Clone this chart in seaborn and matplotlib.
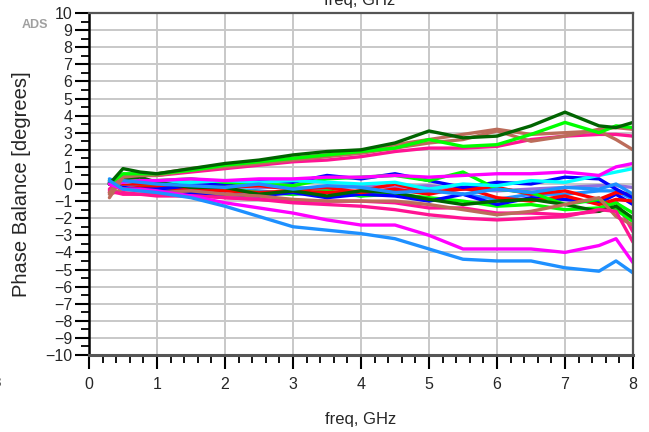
import pandas as pd
import matplotlib.pyplot as plt
import seaborn as sns
from matplotlib.ticker import MultipleLocator

sns.set_style("white")
plt.rcParams["font.family"] = ["Liberation Sans", "DejaVu Sans"]

# sweep points (GHz) and phase balance (deg) per trace
freq = [0.3, 0.5, 0.75, 1.0, 1.5, 2.0, 2.5, 3.0, 3.5, 4.0, 4.5, 5.0, 5.5, 6.0, 6.5, 7.0, 7.5, 7.75, 8.0]

purple_mid = [0.0, 0.0, 0.0, -0.1, 0.0, -0.1, -0.2, -0.2, -0.3, -0.1, -0.2, -0.1, -0.3, -0.4, -0.3, -0.2, -0.1, -0.1, -0.2]
dodger_mid2 = [0.3, 0.0, -0.1, -0.2, -0.2, -0.3, -0.4, -0.6, -0.5, -0.7, -0.4, -0.3, -0.6, -0.9, -0.6, -0.6, -0.4, -0.4, -0.9]
pink_mid2 = [-0.5, -0.5, -0.6, -0.6, -0.6, -0.8, -0.9, -1.0, -1.0, -1.0, -1.1, -1.4, -1.4, -1.7, -1.7, -1.8, -1.6, -1.0, -2.8]
lime_mid2 = [0.0, 0.2, 0.0, -0.2, -0.3, -0.3, -0.5, -0.6, -0.4, -0.7, -0.6, -0.8, -1.0, -1.3, -1.2, -1.5, -1.4, -1.1, -1.7]
blue_mid2 = [0.0, -0.2, -0.3, -0.4, -0.5, -0.6, -0.7, -0.5, -0.8, -0.6, -0.7, -1.0, -0.6, -1.2, -0.8, -0.9, -1.1, -0.6, -1.2]
red_mid2 = [0.1, 0.0, 0.0, 0.0, -0.1, -0.2, -0.1, -0.3, -0.2, -0.5, -0.3, -0.6, -0.2, -0.8, -1.0, -0.7, -1.2, -0.9, -1.0]
red_mid = [0.0, -0.3, -0.2, -0.2, -0.3, -0.4, -0.5, -0.4, -0.5, -0.4, 0.0, -0.5, -0.3, -0.2, -0.6, -0.4, -0.9, -0.5, -0.6]
blue_mid = [0.1, -0.3, -0.3, -0.3, -0.1, 0.0, 0.2, 0.1, 0.5, 0.3, 0.6, 0.2, -0.2, 0.1, 0.0, 0.4, 0.3, -0.3, -0.8]
lime_mid = [0.2, 0.1, 0.2, 0.2, 0.3, 0.1, 0.0, -0.1, 0.3, 0.4, 0.5, 0.2, 0.7, -0.3, -0.5, -1.2, -0.9, -1.5, -2.2]
cyan_mid = [0.0, 0.1, 0.2, 0.1, 0.1, 0.2, 0.1, 0.2, 0.1, 0.0, 0.1, -0.3, 0.0, -0.1, 0.2, 0.1, 0.5, 0.7, 0.9]
dkgreen_mid = [0.0, 0.3, 0.4, 0.1, -0.2, -0.2, -0.6, -0.4, -0.7, -0.4, -0.5, -0.9, -1.2, -1.0, -0.9, -1.2, -1.6, -1.3, -2.0]
sienna_mid = [-0.6, -0.3, -0.4, -0.5, -0.4, -0.6, -0.7, -0.9, -1.0, -1.0, -1.0, -1.2, -1.5, -1.8, -1.6, -1.2, -0.8, -1.9, -2.4]
pink_mid = [-0.4, -0.6, -0.6, -0.7, -0.7, -0.8, -0.9, -1.1, -1.2, -1.3, -1.5, -1.8, -2.0, -2.1, -2.0, -1.9, -1.5, -1.6, -3.4]
magenta_mid = [0.0, 0.1, 0.2, 0.2, 0.3, 0.2, 0.3, 0.3, 0.4, 0.4, 0.5, 0.4, 0.5, 0.6, 0.6, 0.7, 0.5, 1.0, 1.2]
dodger_mid = [0.1, 0.2, 0.1, 0.0, -0.1, -0.2, 0.0, -0.3, -0.1, -0.2, -0.5, -0.4, -0.6, -0.3, -0.5, -0.2, -0.3, 0.0, -0.6]

pink_up = [-0.3, 0.5, 0.5, 0.5, 0.7, 0.9, 1.1, 1.3, 1.4, 1.6, 1.9, 2.1, 2.1, 2.2, 2.6, 2.8, 2.9, 2.9, 2.8]
sienna_up2 = [-0.8, 0.4, 0.5, 0.5, 0.8, 1.0, 1.2, 1.4, 1.6, 1.8, 2.1, 2.4, 2.6, 3.1, 2.5, 2.8, 3.2, 3.3, 3.2]
sienna_up = [-0.5, 0.5, 0.6, 0.6, 0.9, 1.1, 1.3, 1.5, 1.7, 1.9, 2.3, 2.6, 2.9, 3.2, 2.9, 3.0, 3.1, 2.6, 2.0]
lime_up = [0.0, 0.6, 0.6, 0.6, 0.8, 1.1, 1.3, 1.5, 1.7, 1.9, 2.1, 2.6, 2.2, 2.3, 2.9, 3.6, 3.0, 3.4, 3.3]
dkgreen_up = [0.0, 0.9, 0.7, 0.6, 0.9, 1.2, 1.4, 1.7, 1.9, 2.0, 2.4, 3.1, 2.7, 2.8, 3.4, 4.2, 3.4, 3.3, 3.6]

magenta_lo = [0.0, -0.3, -0.3, -0.4, -0.7, -1.1, -1.4, -1.7, -2.1, -2.4, -2.4, -3.0, -3.8, -3.8, -3.8, -4.0, -3.6, -3.2, -4.6]
dodger_lo = [0.2, -0.3, -0.4, -0.5, -0.8, -1.3, -1.9, -2.5, -2.7, -2.9, -3.2, -3.8, -4.4, -4.5, -4.5, -4.9, -5.1, -4.5, -5.2]

traces = {
    "purple_mid": (purple_mid, "#9370db"),
    "dodger_mid2": (dodger_mid2, "#1e90ff"),
    "pink_mid2": (pink_mid2, "#ff1493"),
    "lime_mid2": (lime_mid2, "#00ff00"),
    "blue_mid2": (blue_mid2, "#0000ff"),
    "red_mid2": (red_mid2, "#ff0000"),
    "red_mid": (red_mid, "#ff0000"),
    "blue_mid": (blue_mid, "#0000ff"),
    "lime_mid": (lime_mid, "#00ff00"),
    "cyan_mid": (cyan_mid, "#00ffff"),
    "dkgreen_mid": (dkgreen_mid, "#006400"),
    "sienna_mid": (sienna_mid, "#bc6c5a"),
    "pink_mid": (pink_mid, "#ff1493"),
    "magenta_mid": (magenta_mid, "#ff00ff"),
    "dodger_mid": (dodger_mid, "#1e90ff"),
    "pink_up": (pink_up, "#ff1493"),
    "sienna_up2": (sienna_up2, "#bc6c5a"),
    "sienna_up": (sienna_up, "#bc6c5a"),
    "lime_up": (lime_up, "#00ff00"),
    "dkgreen_up": (dkgreen_up, "#006400"),
    "magenta_lo": (magenta_lo, "#ff00ff"),
    "dodger_lo": (dodger_lo, "#1e90ff"),
}

rows = []
for name, (vals, _) in traces.items():
    for f, v in zip(freq, vals):
        rows.append({"trace": name, "freq": f, "phase": v})
df = pd.DataFrame(rows)
palette = {name: c for name, (_, c) in traces.items()}

fig = plt.figure(figsize=(6.49, 4.32), dpi=100)
ax = fig.add_axes([89 / 649, 77 / 432, 544 / 649, 342 / 432])

sns.lineplot(data=df, x="freq", y="phase", hue="trace", palette=palette,
             hue_order=list(traces.keys()), linewidth=2.4, legend=False, ax=ax,
             estimator=None, sort=False)

ax.set_xlim(0, 8)
ax.set_ylim(-10, 10)
ax.xaxis.set_major_locator(MultipleLocator(1))
ax.xaxis.set_minor_locator(MultipleLocator(0.2))
ax.yaxis.set_major_locator(MultipleLocator(1))
ax.yaxis.set_minor_locator(MultipleLocator(0.5))
ax.grid(True, which="major", color="#c8c8c8", linewidth=1.4)
ax.set_axisbelow(True)

ax.tick_params(axis="both", which="major", length=10, width=1.5, color="black",
               labelsize=11.5, pad=2, bottom=True, left=True)
ax.tick_params(axis="both", which="minor", length=6, width=1.3, color="black",
               bottom=True, left=True)
ax.tick_params(axis="x", which="major", pad=6)

for side in ["top", "right", "bottom"]:
    ax.spines[side].set_color("#555555")
    ax.spines[side].set_linewidth(1.6)
ax.spines["bottom"].set_linewidth(2.2)
ax.spines["left"].set_color("black")
ax.spines["left"].set_linewidth(1.8)

ax.set_xlabel("freq, GHz", fontsize=12, labelpad=14)
ax.set_ylabel("Phase Balance [degrees]", fontsize=14.5, labelpad=10)

# header and neighbour label clipped at the edges, as in the reference
fig.text(360 / 649, 1.0, "freq, GHz", fontsize=12, ha="center", va="center")
fig.text(22 / 649, 1 - 25 / 432, "ADS", fontsize=9, color="#a0a0a0", ha="left",
         va="center", fontweight="bold")
fig.text(-3 / 649, 1 - 383 / 432, "8", fontsize=11, ha="center", va="center")

fig.savefig("out.png", dpi=100)
